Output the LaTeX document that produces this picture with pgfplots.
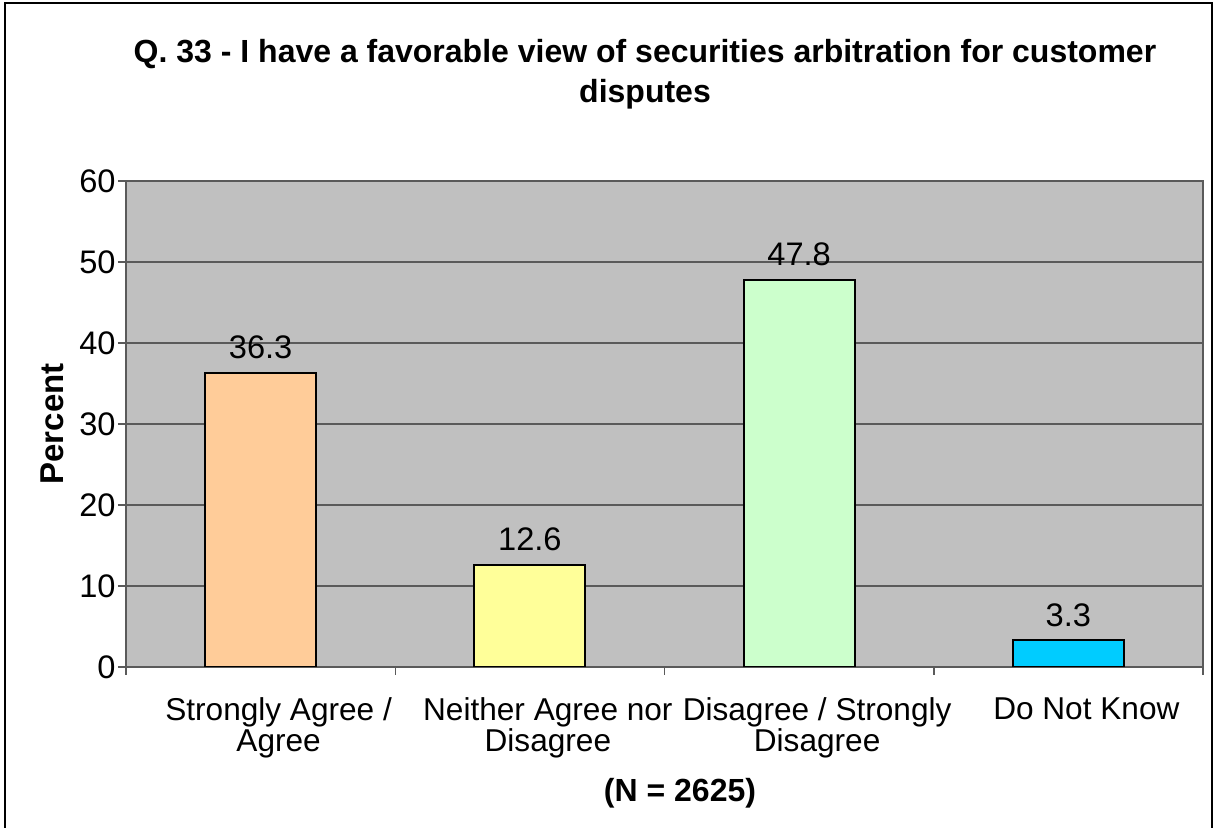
\documentclass[border=0pt]{standalone}
\usepackage{pgfplots}
\pgfplotsset{compat=1.18}
\usepackage{fontspec}
\setmainfont{Liberation Sans}
\definecolor{bgray}{RGB}{192,192,192}
\definecolor{gline}{RGB}{90,90,90}
\definecolor{peach}{RGB}{255,204,153}
\definecolor{lyellow}{RGB}{255,255,153}
\definecolor{lgreen}{RGB}{204,255,204}
\definecolor{cyanb}{RGB}{0,204,255}
\begin{document}
\begin{tikzpicture}[x=0.5pt,y=0.5pt]
\useasboundingbox (0,0) rectangle (1215,828);
\draw[line width=1pt] (5,-4) -- (5,825) -- (1212,825) -- (1212,-4);
\node[font=\bfseries\fontsize{16}{20}\selectfont, align=center] at (645,754) {Q. 33 - I have a favorable view of securities arbitration for customer\\disputes};
\node[font=\bfseries\fontsize{16.5}{18}\selectfont, rotate=90] at (52,404) {Percent};
\node[font=\bfseries\fontsize{16}{18}\selectfont] at (680,35) {(N = 2625)};
\begin{axis}[
  at={(63pt,80.5pt)}, anchor=south west,
  scale only axis, width=538.5pt, height=243pt,
  xmin=-0.5, xmax=3.5, ymin=0, ymax=60,
  ytick={0,10,20,30,40,50,60},
  xtick={0,1,2,3},
  xticklabels={{Strongly Agree /\\Agree},{Neither Agree nor\\Disagree},{Disagree / Strongly\\Disagree},{Do Not Know}},
  xticklabel style={align=center, font=\fontsize{15.8}{15.5}\selectfont, inner sep=0pt, yshift=-11pt, xshift=9pt},
  yticklabel style={font=\fontsize{16.3}{18}\selectfont, inner sep=1pt},
  /pgf/number format/assume math mode=true,
  major tick length=4pt,
  tick pos=left,
  xtick style={draw=none},
  ytick style={draw=gline, line width=0.75pt},
  tick align=outside,
  extra x ticks={-0.5,0.5,1.5,2.5,3.5},
  extra x tick labels={},
  extra x tick style={xtick style={draw=gline, line width=0.75pt}, grid=none, tick pos=left},
  ymajorgrids,
  grid style={draw=gline, line width=0.75pt},
  axis line style={draw=gline, line width=0.75pt},
  axis background/.style={fill=bgray},
  ybar, bar width=55.5pt, bar shift=0pt,
  nodes near coords,
  nodes near coords style={font=\fontsize{16.3}{18}\selectfont, text=black, yshift=3pt,
    /pgf/number format/fixed, /pgf/number format/fixed zerofill, /pgf/number format/precision=1},
]
\addplot[fill=peach, draw=black, line width=1pt] coordinates {(0,36.3)};
\addplot[fill=lyellow, draw=black, line width=1pt] coordinates {(1,12.6)};
\addplot[fill=lgreen, draw=black, line width=1pt] coordinates {(2,47.8)};
\addplot[fill=cyanb, draw=black, line width=1pt] coordinates {(3,3.3)};
\end{axis}
\end{tikzpicture}
\end{document}
